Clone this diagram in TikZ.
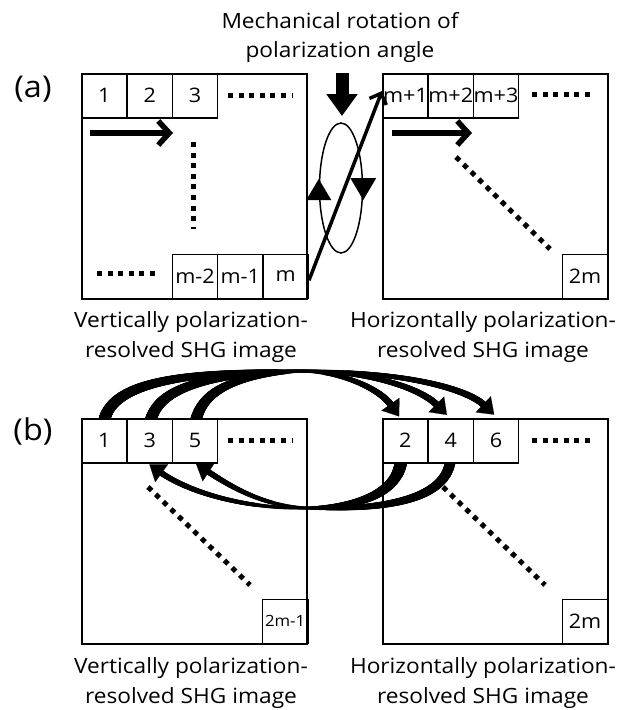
\documentclass[tikz,border=0pt]{standalone}
\usepackage{fontspec}
\setmainfont{Open Sans}[FakeStretch=1.08]
\usetikzlibrary{arrows.meta,decorations.markings,calc,shapes.geometric}
\tikzset{
  imgbox/.style={draw, line width=1.7pt, minimum width=225pt, minimum height=225pt, anchor=north west, inner sep=0pt},
  cell/.style={draw, line width=1.5pt, minimum width=45.3pt, minimum height=44pt, anchor=north west, inner sep=0pt, font=\fontsize{20}{20}\selectfont},
  dots/.style={line width=5pt, dash pattern=on 5pt off 5.6pt},
  captxt/.style={font=\fontsize{21}{21}\selectfont, anchor=base},
  scanarrow/.style={line width=5.5pt, -{Straight Barb[length=11pt,width=24pt]}},
  headtip/.style={line width=0.1pt, -{Triangle[length=15pt,width=22pt]}},
  taper/.style 2 args={decorate, decoration={markings,
    mark=between positions 0 and 1 step 0.5pt with {%
      \pgfmathsetmacro\tr{0.5*(#1+(#2-#1)*(\pgfkeysvalueof{/pgf/decoration/mark info/distance from start})/(\pgfdecoratedpathlength))}%
      \fill (0,0) circle[radius=\tr pt];}}}
}
\begin{document}
\begin{tikzpicture}[x=1pt,y=-1pt]
\useasboundingbox (0,0) rectangle (628,710);

% title
\node[captxt] (t1) at (340,28) {Mechanical rotation of};
\node[captxt] (t2) at (340,57) {polarization angle};
\node[font=\fontsize{30}{30}\selectfont] (la) at (33,89) {(a)};
\node[font=\fontsize{30}{30}\selectfont] (lb) at (33,431) {(b)};

% ---------- panel (a)
\node[imgbox] (A) at (81,73) {};
\node[cell] (a1) at (81,73) {1};
\node[cell] (a2) at (126.3,73) {2};
\node[cell] (a3) at (171.6,73) {3};
\node[cell] (am2) at (171.6,253.5) {m-2};
\node[cell] (am1) at (216.9,253.5) {m-1};
\node[cell] (am) at (262.2,253.5) {m};

\node[imgbox] (B) at (382,73) {};
\node[cell] (bm1) at (382,73) {m+1};
\node[cell] (bm2) at (427.3,73) {m+2};
\node[cell] (bm3) at (472.6,73) {m+3};
\node[cell] (b2m) at (561.7,253.5) {2m};

\draw[dots] (228,95) -- (293,95);
\draw[dots] (193,142) -- (193,229);
\draw[dots] (97,273) -- (160,273);
\draw[dots] (532,94) -- (593,94);
\draw[dots] (456,157) -- (550,249);

\coordinate (sa0) at (90,133);
\coordinate (sa1) at (173,133);
\coordinate (sb0) at (392,133);
\coordinate (sb1) at (472,133);
\draw[scanarrow] (sa0) -- (sa1);
\draw[scanarrow] (sb0) -- (sb1);

% rotation symbol
\node[draw, ellipse, minimum width=43pt, minimum height=130pt, line width=1.5pt, inner sep=0pt] (ell) at (341,188) {};
\fill ($(ell.west)+(0,-9)$) -- ++(12.5,21) -- ++(-25,0) -- cycle;
\fill ($(ell.east)+(0,12)$) -- ++(-13,-22) -- ++(26,0) -- cycle;
\coordinate (dtop) at (342,73);
\coordinate (dtip) at (342,116);
\draw[line width=13pt, -{Triangle[length=22pt,width=30pt]}] (dtop) -- (dtip);
\draw[line width=3.5pt, -{Straight Barb[length=9pt,width=18pt]}] ($(am.east)+(0,4)$) -- ($(bm1.north west)+(0,18)$);

\node[captxt] (ca1) at (191,327) {Vertically polarization-};
\node[captxt] (ca2) at (191,357) {resolved SHG image};
\node[captxt] (ca3) at (483,327) {Horizontally polarization-};
\node[captxt] (ca4) at (483,357) {resolved SHG image};

% ---------- panel (b)
\node[imgbox] (C) at (81,418) {};
\node[cell] (c1) at (81,418) {1};
\node[cell] (c3) at (126.3,418) {3};
\node[cell] (c5) at (171.6,418) {5};
\node[cell, font=\fontsize{15.5}{15.5}\selectfont] (c2m1) at (261.7,598.5) {2m-1};

\node[imgbox] (D) at (382,418) {};
\node[cell] (d2) at (382,418) {2};
\node[cell] (d4) at (427.3,418) {4};
\node[cell] (d6) at (472.6,418) {6};
\node[cell] (d2m) at (561.7,598.5) {2m};

\draw[dots] (228,440) -- (293,440);
\draw[dots] (532,440) -- (593,440);
\draw[dots] (148,487) -- (250,585);
\draw[dots] (443,487) -- (545,585);

% top arcs
\coordinate (P) at (300,371);
\begin{scope}
\clip (0,0) rectangle (628,417.4);
\path[taper={12}{3}] ($(c1.north)+(-1,8)$) .. controls +(3,-41) and (170,372) .. (P);
\path[taper={12}{3}] ($(c3.north)+(0,8)$) .. controls +(4,-36) and (200,374) .. (P);
\path[taper={12}{3}] ($(c5.north)+(0,8)$) .. controls +(4,-34) and (232,375) .. (P);
\end{scope}
\coordinate (t2c) at (379,388); \coordinate (t2b) at (391,405);
\coordinate (t4c) at (420,388); \coordinate (t4b) at (437,405);
\coordinate (t6c) at (466,388); \coordinate (t6b) at (484,405);
\path[taper={3}{7}] (P) .. controls (340,371) and (t2c) .. (t2b);
\path[taper={3}{7}] (P) .. controls (370,371) and (t4c) .. (t4b);
\path[taper={3}{7}] (P) .. controls (400,371) and (t6c) .. (t6b);
\draw[headtip] (t2b) -- ($(t2b)!-14pt!(t2c)$);
\draw[headtip] (t4b) -- ($(t4b)!-14pt!(t4c)$);
\draw[headtip] (t6b) -- ($(t6b)!-14pt!(t6c)$);

% bottom arcs
\coordinate (Q) at (307,508);
\begin{scope}
\clip (0,462.8) rectangle (628,710);
\path[taper={13}{3}] ($(d2.south)+(-4,-8)$) .. controls +(0,41) and (350,508) .. (Q);
\path[taper={11}{3}] ($(d4.south)+(0,-8)$) .. controls +(0,46) and (380,510) .. (Q);
\end{scope}
\coordinate (u3c) at (185,490); \coordinate (u3b) at (160,472);
\coordinate (u5c) at (230,486); \coordinate (u5b) at (207,471);
\path[taper={3}{6}] (Q) .. controls (240,509) and (u3c) .. (u3b);
\path[taper={3}{6}] (Q) .. controls (262,506) and (u5c) .. (u5b);
\draw[headtip] (u3b) -- ($(u3b)!-13pt!(u3c)$);
\draw[headtip] (u5b) -- ($(u5b)!-13pt!(u5c)$);

\node[captxt] (cb1) at (191,673) {Vertically polarization-};
\node[captxt] (cb2) at (191,703) {resolved SHG image};
\node[captxt] (cb3) at (483,673) {Horizontally polarization-};
\node[captxt] (cb4) at (483,703) {resolved SHG image};
\end{tikzpicture}
\end{document}
